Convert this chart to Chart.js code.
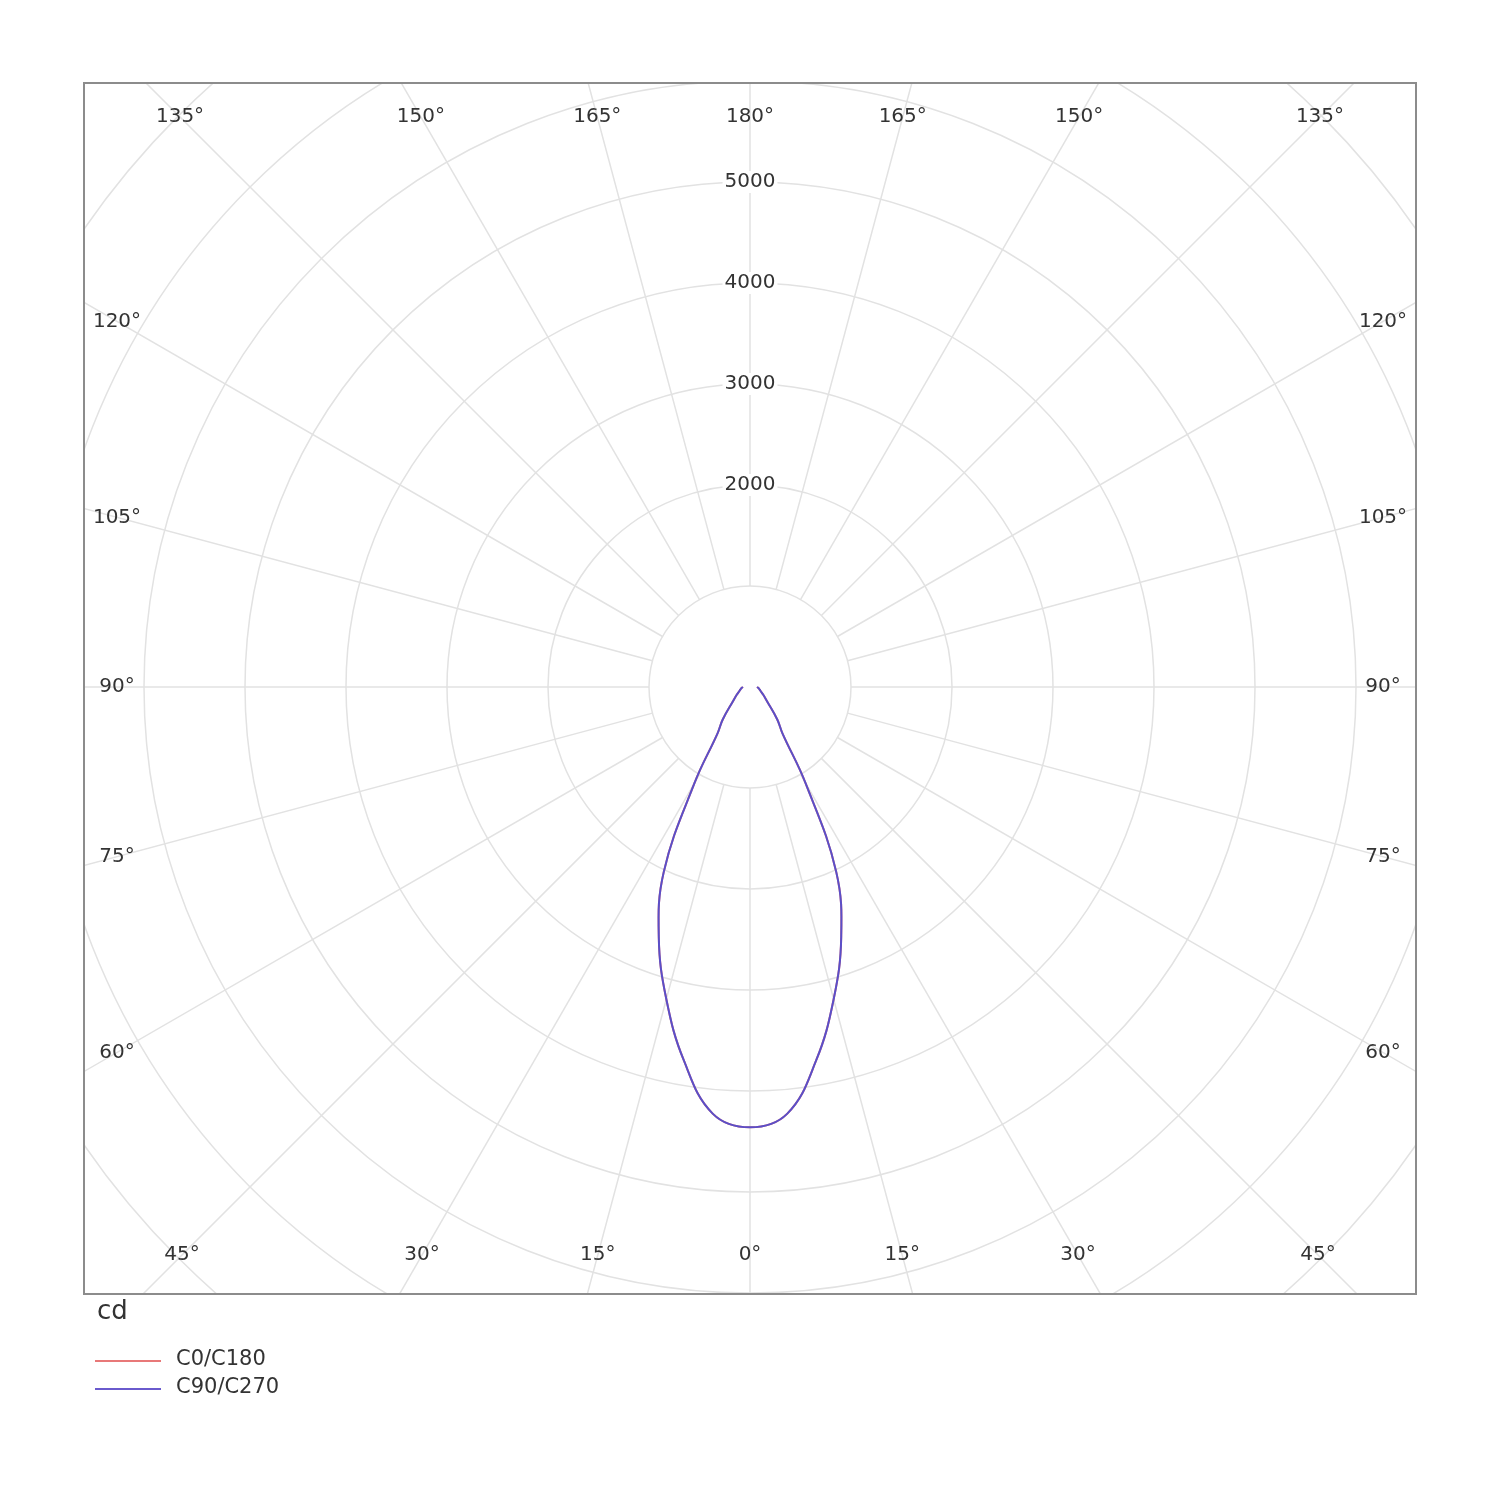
<!DOCTYPE html>
<html><head><meta charset="utf-8">
<script src="https://cdn.jsdelivr.net/npm/chart.js@4/dist/chart.umd.min.js"></script>
<style>
body{margin:0;background:#fff;width:1500px;height:1500px;position:relative;font-family:"DejaVu Sans",sans-serif;}
#wrap{position:absolute;left:0;top:0;width:1500px;height:1500px;}
.lg{position:absolute;font-size:21px;color:#333;}
.ln{position:absolute;left:95px;width:66px;height:0;border-top:2px solid;}
</style></head><body>
<div id="wrap"><canvas id="c" width="1500" height="1500"></canvas></div>
<div class="lg" style="left:97px;top:1295px;font-size:26px;">cd</div>
<div class="ln" style="top:1360px;border-color:#e87878"></div>
<div class="lg" style="left:176px;top:1346px;">C0/C180</div>
<div class="ln" style="top:1388px;border-color:#6a5acd"></div>
<div class="lg" style="left:176px;top:1374px;">C90/C270</div>
<script>
const gammaAngles = [0,5,10,15,20,25,30,35,40,50,60,70,80,90];
const c0c180 = [4360,4240,3760,3200,2640,2020,1100,560,420,220,150,110,90,70];
const c90c270 = [4360,4240,3760,3200,2640,2020,1100,560,420,220,150,110,90,70];
const ringValues = [1000,2000,3000,4000,5000,6000,7000,8000,9000,10000];
const ringLabels = ["2000","3000","4000","5000"];

function curve(vals){
  const pts=[];
  for(let i=gammaAngles.length-1;i>=0;i--){const g=gammaAngles[i]*Math.PI/180;pts.push({x:-vals[i]*Math.sin(g),y:-vals[i]*Math.cos(g)});}
  for(let i=1;i<gammaAngles.length;i++){const g=gammaAngles[i]*Math.PI/180;pts.push({x:vals[i]*Math.sin(g),y:-vals[i]*Math.cos(g)});}
  return pts;
}
const grid={id:'grid',beforeDatasetsDraw(ch){
  const {ctx,chartArea:a,scales:{x,y}}=ch;
  const cx=x.getPixelForValue(0),cy=y.getPixelForValue(0);
  const k=x.getPixelForValue(1000)-cx;
  ctx.save();ctx.beginPath();ctx.rect(a.left,a.top,a.right-a.left,a.bottom-a.top);ctx.clip();
  ctx.strokeStyle='#e2e2e2';ctx.lineWidth=1.5;
  ringValues.forEach(v=>{ctx.beginPath();ctx.arc(cx,cy,v/1000*k,0,2*Math.PI);ctx.stroke();});
  for(let d=0;d<360;d+=15){const t=d*Math.PI/180;ctx.beginPath();
    ctx.moveTo(cx+Math.cos(t)*k,cy+Math.sin(t)*k);ctx.lineTo(cx+Math.cos(t)*2000,cy+Math.sin(t)*2000);ctx.stroke();}
  ctx.restore();
  ctx.save();ctx.font='20px "DejaVu Sans"';ctx.fillStyle='#333';ctx.textAlign='center';ctx.textBaseline='middle';
  ringLabels.forEach(s=>{const yy=cy-(+s)/1000*k;const w=ctx.measureText(s).width;ctx.fillStyle='#fff';ctx.fillRect(cx-w/2-2,yy-11,w+4,22);ctx.fillStyle='#333';ctx.fillText(s,cx,yy);});
  const L=117,R=1383,T=117,B=1255;
  function place(gam,side){const g=gam*Math.PI/180;const dx=side*Math.sin(g),dy=-Math.cos(g);
    let s=1e9; if(dx>1e-6)s=Math.min(s,(R-cx)/dx); if(dx<-1e-6)s=Math.min(s,(L-cx)/dx);
    if(dy>1e-6)s=Math.min(s,(cy-T)/dy); if(dy<-1e-6)s=Math.min(s,(cy-B)/dy);
    return [cx+dx*s,cy-dy*s];}
  for(let gm=0;gm<=180;gm+=15){[-1,1].forEach(sd=>{if((gm==0||gm==180)&&sd==1)return;const p=place(gm,sd);ctx.fillText(gm+'°',p[0],p[1]);});}
  ctx.restore();
}};
const frame={id:'frame',afterDraw(ch){const {ctx,chartArea:a}=ch;ctx.save();ctx.strokeStyle='#8c8c8c';ctx.lineWidth=2;ctx.strokeRect(a.left,a.top,a.right-a.left,a.bottom-a.top);ctx.restore();}};
new Chart(document.getElementById('c'),{type:'scatter',
 data:{datasets:[
  {label:'C0/C180',data:curve(c0c180),showLine:true,borderColor:'#e87878',borderWidth:2,pointRadius:0,tension:0.4,fill:false,order:2},
  {label:'C90/C270',data:curve(c90c270),showLine:true,borderColor:'#5a4fc8',borderWidth:2,pointRadius:0,tension:0.4,fill:false,order:1}]},
 options:{responsive:false,animation:false,devicePixelRatio:1,
  layout:{padding:{left:84,right:84,top:83,bottom:206}},
  plugins:{legend:{display:false},tooltip:{enabled:false}},
  scales:{x:{display:false,min:-6594,max:6594},y:{display:false,min:-6010,max:5980}}},
 plugins:[grid,frame]});
</script></body></html>
